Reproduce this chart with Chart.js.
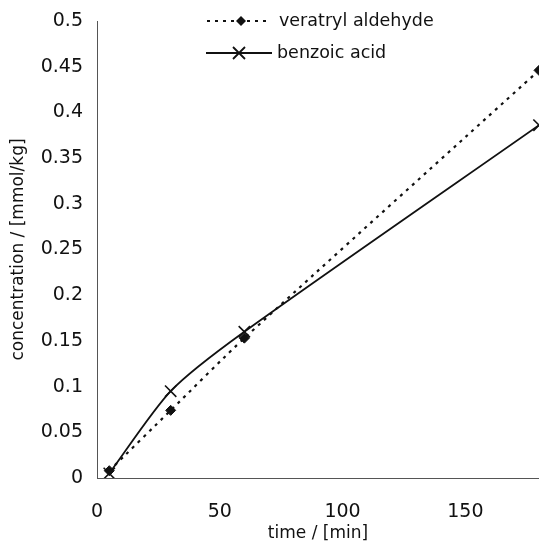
<!DOCTYPE html>
<html><head><meta charset="utf-8">
<script src="https://cdn.jsdelivr.net/npm/chart.js@4/dist/chart.umd.min.js"></script>
<style>html,body{margin:0;padding:0;background:#fff}#w{width:539px;height:544px}</style>
</head><body><div id="w"><canvas id="c"></canvas></div>
<script>
const seriesNames = ["veratryl aldehyde", "benzoic acid"];
const times = [5, 30, 60, 180];
const veratryl = [0.008, 0.074, 0.153, 0.446];
const benzoic = [0.005, 0.095, 0.160, 0.386];
const xTicks = [0, 50, 100, 150];
const yTicks = [0, 0.05, 0.1, 0.15, 0.2, 0.25, 0.3, 0.35, 0.4, 0.45, 0.5];

const FONT = "'DejaVu Sans', sans-serif";

const legendPlugin = {
  id: 'customLegend',
  afterDraw(chart) {
    const ctx = chart.ctx;
    ctx.save();
    ctx.fillStyle = '#111'; ctx.strokeStyle = '#111';
    ctx.font = "17.5px " + FONT;
    ctx.textBaseline = 'middle';
    // row 1
    let y = 21;
    ctx.lineWidth = 2.2; ctx.setLineDash([3, 5]);
    ctx.beginPath(); ctx.moveTo(207, y); ctx.lineTo(270, y); ctx.stroke();
    ctx.setLineDash([]);
    ctx.beginPath(); ctx.moveTo(241, y - 5); ctx.lineTo(246, y); ctx.lineTo(241, y + 5); ctx.lineTo(236, y); ctx.closePath(); ctx.fill();
    ctx.fillText(seriesNames[0], 279, y);
    // row 2
    y = 53;
    ctx.lineWidth = 1.8;
    ctx.beginPath(); ctx.moveTo(206, y); ctx.lineTo(272, y); ctx.stroke();
    ctx.beginPath(); ctx.moveTo(233, y - 6); ctx.lineTo(245, y + 6); ctx.moveTo(245, y - 6); ctx.lineTo(233, y + 6); ctx.stroke();
    ctx.fillText(seriesNames[1], 277, y);
    ctx.restore();
  }
};

new Chart(document.getElementById('c'), {
  type: 'line',
  data: {
    datasets: [
      {
        label: seriesNames[0],
        data: times.map((t, i) => ({x: t, y: veratryl[i]})),
        borderColor: '#111', backgroundColor: '#111',
        borderWidth: 2.2, borderDash: [3, 5],
        pointStyle: 'rectRot', pointRadius: 5, pointBorderWidth: 1,
        tension: 0.25
      },
      {
        label: seriesNames[1],
        data: times.map((t, i) => ({x: t, y: benzoic[i]})),
        borderColor: '#111', backgroundColor: '#111',
        borderWidth: 1.8,
        pointStyle: 'crossRot', pointRadius: 8, pointBorderWidth: 1.6,
        tension: 0.25
      }
    ]
  },
  options: {
    responsive: true, maintainAspectRatio: false, animation: false,
    layout: {autoPadding: false, padding: {top: 21, right: 0, left: 0, bottom: 0}},
    plugins: {legend: {display: false}, tooltip: {enabled: false}},
    scales: {
      x: {
        type: 'linear', min: 0, max: 180,
        afterBuildTicks(s) { s.ticks = xTicks.map(v => ({value: v})); },
        afterFit(s) { s.height = 66; },
        grid: {display: false, drawOnChartArea: false, drawTicks: true, tickLength: 5, color: '#555'},
        border: {display: true, color: '#555', width: 1},
        ticks: {color: '#111', font: {family: FONT, size: 19}, padding: 18, maxRotation: 0},
        title: {display: true, text: 'time / [min]', color: '#111', font: {family: FONT, size: 17}, padding: {top: 0, bottom: 0}}
      },
      y: {
        type: 'linear', min: 0, max: 0.5,
        afterBuildTicks(s) { s.ticks = yTicks.map(v => ({value: v})); },
        afterFit(s) { s.width = 97; },
        grid: {display: false, drawOnChartArea: false, drawTicks: true, tickLength: 7, color: '#555'},
        border: {display: true, color: '#555', width: 1},
        ticks: {color: '#111', font: {family: FONT, size: 19}, padding: 7, callback: v => String(v)},
        title: {display: true, text: 'concentration / [mmol/kg]', color: '#111', font: {family: FONT, size: 17}, padding: {top: 8, bottom: 4}}
      }
    }
  },
  plugins: [legendPlugin]
});
</script></body></html>
